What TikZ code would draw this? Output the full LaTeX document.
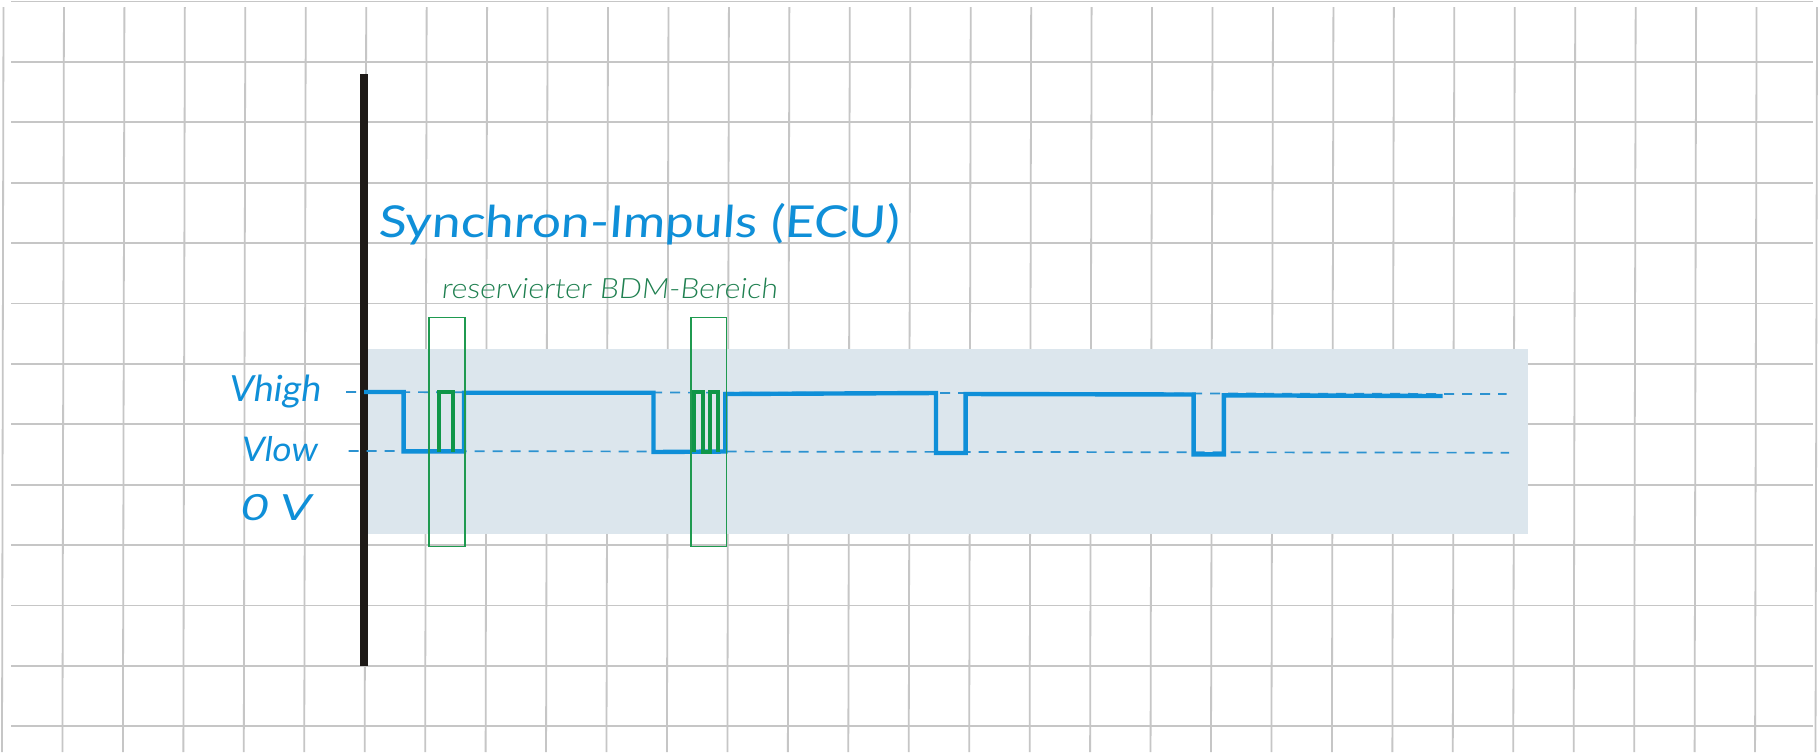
\documentclass[tikz,border=0pt]{standalone}
\usepackage{graphicx}
\usepackage{fontspec}
\newfontfamily\handfont{Lato}[FakeSlant=0.06]
\newfontfamily\handslant{Lato}[FakeSlant=0.14]
\newfontfamily\handthin{Lato Light}[FakeSlant=0.1]
\definecolor{gridgray}{HTML}{C6C6C6}
\definecolor{bandblue}{HTML}{DCE6ED}
\definecolor{sigblue}{HTML}{0F8FD8}
\definecolor{dashblue}{HTML}{2C92D0}
\definecolor{pulsegreen}{HTML}{0F9648}
\definecolor{boxgreen}{HTML}{1F9A50}
\definecolor{textgreen}{HTML}{1F8050}
\definecolor{barblack}{HTML}{1E1A17}
\tikzset{
  gridline/.style={draw=gridgray,line width=0.9pt},
  levelline/.style={draw=dashblue,line width=0.85pt,dash pattern=on 5pt off 4pt},
  signal/.style={draw=sigblue,line width=2.2pt,miter limit=10},
  pulse/.style={draw=pulsegreen,line width=2pt},
  window/.style={draw=boxgreen,line width=0.75pt},
  bluelabel/.style={text=sigblue,anchor=base west,inner sep=0pt,outer sep=0pt},
  greenlabel/.style={text=textgreen,anchor=base west,inner sep=0pt,outer sep=0pt}
}
\newcommand{\fitted}[2]{\resizebox{#1}{\height}{#2}}
\begin{document}
\begin{tikzpicture}[x=0.5pt,y=-0.5pt]
\useasboundingbox (0,0) rectangle (1819,752);
\fill[white] (0,0) rectangle (1819,752);
% grid
\foreach \k in {0,...,30}{
  \pgfmathsetmacro{\xa}{3.5+60.45*\k}
  \pgfmathsetmacro{\xb}{2+60.45*\k}
  \draw[gridline] (\xa,7) -- (\xb,752);
}
\foreach \j in {0,...,12}{
  \pgfmathsetmacro{\yy}{1.5+60.4*\j}
  \draw[gridline] (11,\yy) -- (1813,\yy);
}
% band
\fill[bandblue] (368,348.5) rectangle (1528,534);
% axis
\fill[barblack] (360,74) rectangle (368.4,666);
% level lines
\draw[levelline] (346,392) -- (1506.5,394);
\draw[levelline] (348.5,451) -- (1509,452.7);
% signal
\draw[signal] (364,392) -- (403.6,392) -- (403.6,451.3) -- (464,451.3) -- (464,392.7)
  -- (653.5,392.7) -- (653.5,452) -- (725.4,451.5) -- (725.4,394)
  -- (936,393) -- (936,453) -- (965.6,453) -- (965.6,394)
  -- (1193.6,394.5) -- (1193.6,454.3) -- (1223.8,454.3) -- (1223.8,395.3) -- (1442.7,396);
% green pulses
\draw[pulse] (439,451.5) -- (439,391.7) -- (453,391.7) -- (453,451.5);
\draw[pulse] (694.4,451.5) -- (694.4,391.7) -- (702.5,391.7) -- (702.5,452) -- (710,452)
  -- (710,391.7) -- (718,391.7) -- (718,451.5);
% windows
\draw[window] (429.2,317.3) rectangle (465.2,546.3);
\draw[window] (691,317.3) rectangle (726.6,546.3);
% labels
\node[bluelabel] (title) at (378,237) {\handfont\fontsize{22pt}{24pt}\selectfont\fitted{260.5pt}{Synchron-Impuls (ECU)}};
\node[greenlabel] (reserved) at (441,298.5) {\handthin\fontsize{14pt}{16pt}\selectfont\fitted{168pt}{reservierter BDM-Bereich}};
\node[bluelabel] (vhigh) at (228,401) {\handslant\fontsize{18pt}{20pt}\selectfont\fitted{46pt}{Vhigh}};
\node[bluelabel] (vlow) at (240.5,461) {\handslant\fontsize{17pt}{20pt}\selectfont\fitted{38pt}{Vlow}};
\node[bluelabel] (zerov) at (239.5,520) {\handslant\fontsize{18pt}{20pt}\selectfont\fitted{35pt}{0 V}};
\end{tikzpicture}
\end{document}
